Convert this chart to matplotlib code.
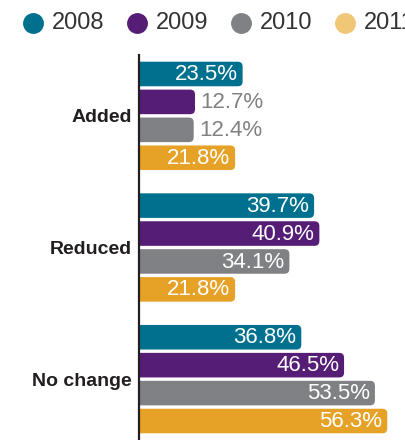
import matplotlib
matplotlib.use("Agg")
import matplotlib.pyplot as plt
from matplotlib.patches import FancyBboxPatch
from matplotlib.lines import Line2D

categories = ["Added", "Reduced", "No change"]
years = ["2008", "2009", "2010", "2011"]
values = {
    "2008": [23.5, 39.7, 36.8],
    "2009": [12.7, 40.9, 46.5],
    "2010": [12.4, 34.1, 53.5],
    "2011": [21.8, 21.8, 56.3],
}
bar_colors = ["#00708F", "#561D77", "#808184", "#E5A227"]
legend_colors = ["#00708F", "#561D77", "#808184", "#F0C677"]

plt.rcParams["font.family"] = ["Liberation Sans", "DejaVu Sans"]

W, H = 406, 440
fig = plt.figure(figsize=(W / 100, H / 100), dpi=100)
ax_left = 139 / W
ax = fig.add_axes([ax_left, 0, 1 - ax_left, (H - 55) / H])

px_per_x = 4.41
group_step = 4.714
bar_h = 0.88
xmax = (W - 139) / px_per_x
ax.set_xlim(0, xmax)
ymax = 2 * group_step + 3 + 0.68
ax.set_ylim(ymax, -0.68)

# aspect for rounded corners: y units per px / x units per px
aspect = (1 / 28) / (1 / px_per_x)

for g, cat in enumerate(categories):
    for i, yr in enumerate(years):
        v = values[yr][g]
        yc = g * group_step + i
        patch = FancyBboxPatch((-2, yc - bar_h / 2), v + 2, bar_h,
                               boxstyle="round,pad=0,rounding_size=1.1",
                               mutation_aspect=aspect,
                               facecolor=bar_colors[i], edgecolor="none")
        ax.add_patch(patch)
        if v > 15:
            ax.text(v - 1.1, yc + 0.02, f"{v}%", color="white", fontsize=16,
                    ha="right", va="center")
        else:
            ax.text(v + 1.3, yc + 0.02, f"{v}%", color="#808184", fontsize=16,
                    ha="left", va="center")

ax.set_yticks([g * group_step + 1.5 for g in range(len(categories))])
ax.set_yticklabels(categories, fontsize=14, fontweight="bold", color="#231F20")
ax.tick_params(axis="y", length=0, pad=5)
ax.set_xticks([])
for s in ["top", "right", "bottom"]:
    ax.spines[s].set_visible(False)
ax.spines["left"].set_linewidth(1.6)
ax.spines["left"].set_color("#231F20")
ax.spines["left"].set_zorder(5)

# legend row across the top
for i, yr in enumerate(years):
    cx = (33 + 104 * i) / W
    cy = 1 - 23 / H
    fig.add_artist(Line2D([cx], [cy], marker="o", markersize=14,
                          color=legend_colors[i], linestyle="none",
                          transform=fig.transFigure))
    fig.text(cx + 19 / W, cy, yr, fontsize=17, color="#333333",
             ha="left", va="center")

fig.savefig("out.png", dpi=100)
